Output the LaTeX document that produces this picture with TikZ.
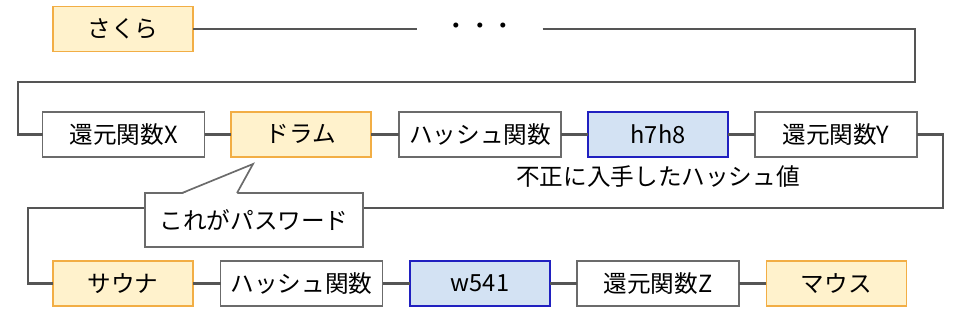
\documentclass[tikz,border=0pt]{standalone}
\usepackage{fontspec}
\setmainfont{Noto Sans CJK JP}
\definecolor{pwfill}{HTML}{FFF2CC}
\definecolor{pwline}{HTML}{F2AE45}
\definecolor{hvfill}{HTML}{D3E2F3}
\definecolor{hvline}{HTML}{2020C0}
\definecolor{boxline}{HTML}{6B6B6B}
\definecolor{wire}{HTML}{555555}
\tikzset{
  jptext/.style={font=\fontsize{16.8}{20}\selectfont},
  chainbox/.style={jptext, draw, line width=1.2pt, minimum height=1.125cm, inner sep=0pt, outer sep=0pt},
  pwbox/.style={chainbox, fill=pwfill, draw=pwline, minimum width=3.5cm},
  hashbox/.style={chainbox, fill=hvfill, draw=hvline, minimum width=3.5cm},
  funcbox/.style={chainbox, fill=white, draw=boxline, minimum width=4.05cm},
  link/.style={draw=wire, line width=2pt},
}
\begin{document}
\begin{tikzpicture}
    \useasboundingbox (0,0) rectangle (24,-7.925);
    % first row
    \node[pwbox] (sakura) at (3.075,-0.725) {さくら};
    \node[jptext, inner xsep=0.675cm, inner ysep=0pt] (dots) at (12,-0.725) {・・・};
    % second row
    \node[funcbox] (redX) at (3.09,-3.36) {還元関数X};
    \node[pwbox] (drum) at (7.525,-3.36) {ドラム};
    \node[funcbox] (hashA) at (12,-3.36) {ハッシュ関数};
    \node[hashbox] (h7h8) at (16.45,-3.36) {h7h8};
    \node[funcbox] (redY) at (20.9,-3.36) {還元関数Y};
    \node[jptext] (stolen) at (16.45,-4.425) {不正に入手したハッシュ値};
    % third row
    \node[pwbox] (sauna) at (3.075,-7.09) {サウナ};
    \node[funcbox] (hashB) at (7.54,-7.09) {ハッシュ関数};
    \node[hashbox] (w541) at (12,-7.09) {w541};
    \node[funcbox] (redZ) at (16.45,-7.09) {還元関数Z};
    \node[pwbox] (mouse) at (20.91,-7.09) {マウス};
    % bends of the wrapping lines
    \coordinate (bendA) at (22.875,-2.05);
    \coordinate (bendB) at (0.45,-2.05);
    \coordinate (bendC) at (23.575,-5.2);
    \coordinate (bendD) at (0.7,-5.2);
    % connectors
    \draw[link] (sakura) -- (dots);
    \draw[link] (dots) -| (bendA) -- (bendB) |- (redX);
    \draw[link] (redX) -- (drum);
    \draw[link] (drum) -- (hashA);
    \draw[link] (hashA) -- (h7h8);
    \draw[link] (h7h8) -- (redY);
    \draw[link] (redY) -| (bendC) -- (bendD) |- (sauna);
    \draw[link] (sauna) -- (hashB);
    \draw[link] (hashB) -- (w541);
    \draw[link] (w541) -- (redZ);
    \draw[link] (redZ) -- (mouse);
    % callout pointing at the password
    \node[chainbox, fill=white, draw=boxline, minimum width=5.45cm, minimum height=1.35cm] (pw) at (6.35,-5.5) {これがパスワード};
    \coordinate (tip) at (6.325,-4.1);
    \fill[white] ([xshift=0.925cm,yshift=-0.8pt]pw.north west) -- (tip) -- ([xshift=2.3cm,yshift=-0.8pt]pw.north west) -- cycle;
    \draw[draw=boxline, line width=1.2pt] ([xshift=0.925cm]pw.north west) -- (tip) -- ([xshift=2.3cm]pw.north west);
\end{tikzpicture}
\end{document}
